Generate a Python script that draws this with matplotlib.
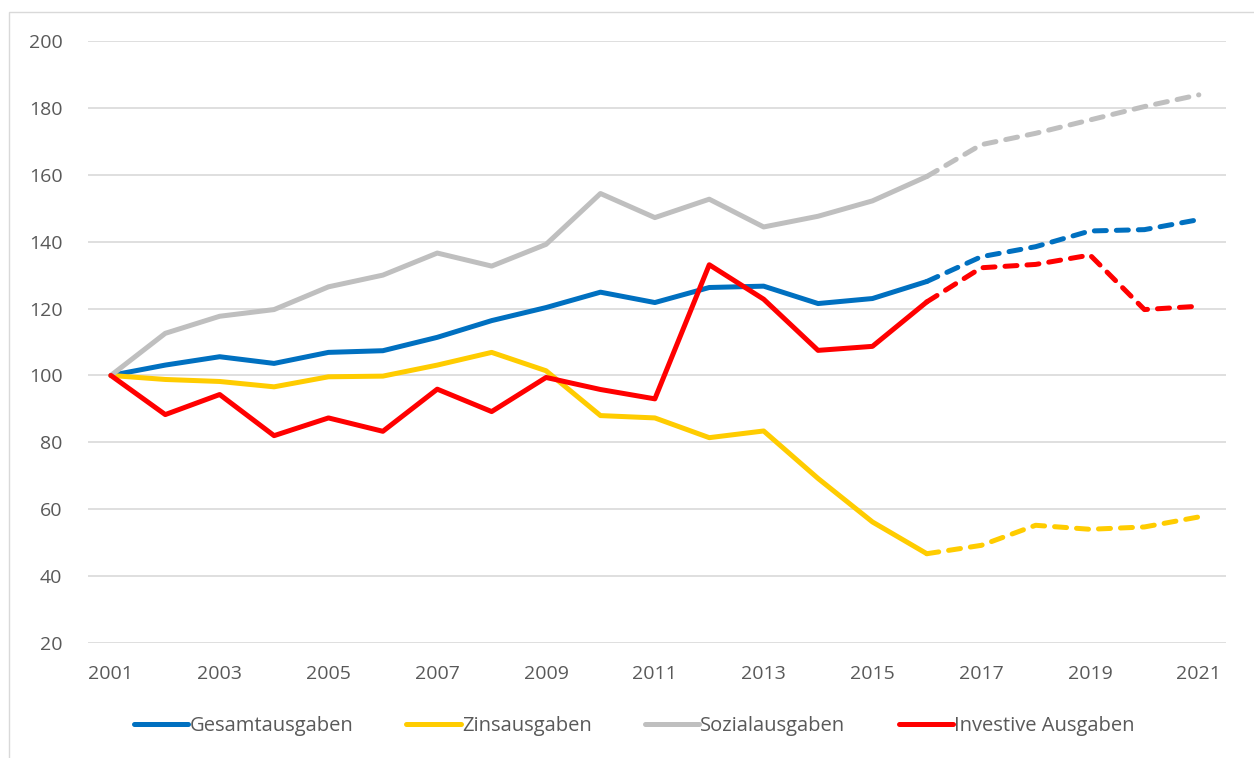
import matplotlib.pyplot as plt
import matplotlib.patches as patches
import numpy as np

# Index 2001 = 100
years = list(range(2001, 2022))

gesamt = [100, 103.1, 105.6, 103.6, 106.9, 107.4, 111.4, 116.4, 120.3, 124.9, 121.8,
          126.3, 126.7, 121.5, 123.0, 128.1, 135.5, 138.5, 143.2, 143.6, 146.6]
zins = [100, 98.8, 98.2, 96.6, 99.6, 99.8, 103.1, 106.9, 101.4, 88.0, 87.3,
        81.4, 83.4, 69.2, 56.2, 46.7, 49.2, 55.2, 54.0, 54.7, 57.7]
sozial = [100, 112.6, 117.7, 119.7, 126.5, 130.0, 136.6, 132.7, 139.2, 154.4, 147.2,
          152.7, 144.4, 147.6, 152.2, 159.5, 169.0, 172.4, 176.4, 180.4, 183.9]
investiv = [100, 88.3, 94.3, 82.0, 87.3, 83.3, 95.9, 89.2, 99.4, 95.8, 93.0,
            133.1, 122.8, 107.5, 108.7, 122.0, 132.2, 133.2, 136.0, 119.7, 120.7]

labels = ["Gesamtausgaben", "Zinsausgaben", "Sozialausgaben", "Investive Ausgaben"]
colors = ["#0070C0", "#FFCC00", "#BFBFBF", "#FF0000"]
last_actual = 2016  # afterwards: forecast (dashed)

plt.rcParams['font.family'] = ['Open Sans', 'DejaVu Sans']

fig = plt.figure(figsize=(12.54, 7.58), dpi=100)
ax = fig.add_axes([0.0702, 0.1517, 0.9075, 0.7942])

split = years.index(last_actual) + 1
for series, label, color in zip([gesamt, zins, sozial, investiv], labels, colors):
    ax.plot(years[:split], series[:split], color=color, linewidth=3.6,
            solid_capstyle='round', solid_joinstyle='round', label=label)
    ax.plot(years[split - 1:], series[split - 1:], color=color, linewidth=3.6,
            linestyle=(0, (2.4, 2.0)), dash_capstyle='round', dash_joinstyle='round')

ax.set_ylim(20, 200)
ax.set_yticks(np.arange(20, 201, 20))
ax.set_xlim(2000.58, 2021.5)
ax.set_xticks(years[::2])

ax.grid(axis='y', color='#D9D9D9', linewidth=1.2)
ax.set_axisbelow(True)
for s in ax.spines.values():
    s.set_visible(False)
ax.tick_params(axis='both', length=0, labelsize=14, colors='#595959')
ax.tick_params(axis='y', pad=18.5)
ax.tick_params(axis='x', pad=16)

leg = ax.legend(loc='center', bbox_to_anchor=(0.48, -0.138), ncol=4,
                frameon=False, fontsize=14.5, handlelength=2.7, handletextpad=0.05,
                columnspacing=2.65)
for t in leg.get_texts():
    t.set_color('#595959')

# thin chart border (top and left visible)
fig.patches.append(patches.Rectangle((9 / 1254, -0.01), 1.0, 1 - 12 / 758 + 0.01,
                                     transform=fig.transFigure, fill=False,
                                     edgecolor='#D9D9D9', linewidth=1))

fig.savefig('out.png', dpi=100)
